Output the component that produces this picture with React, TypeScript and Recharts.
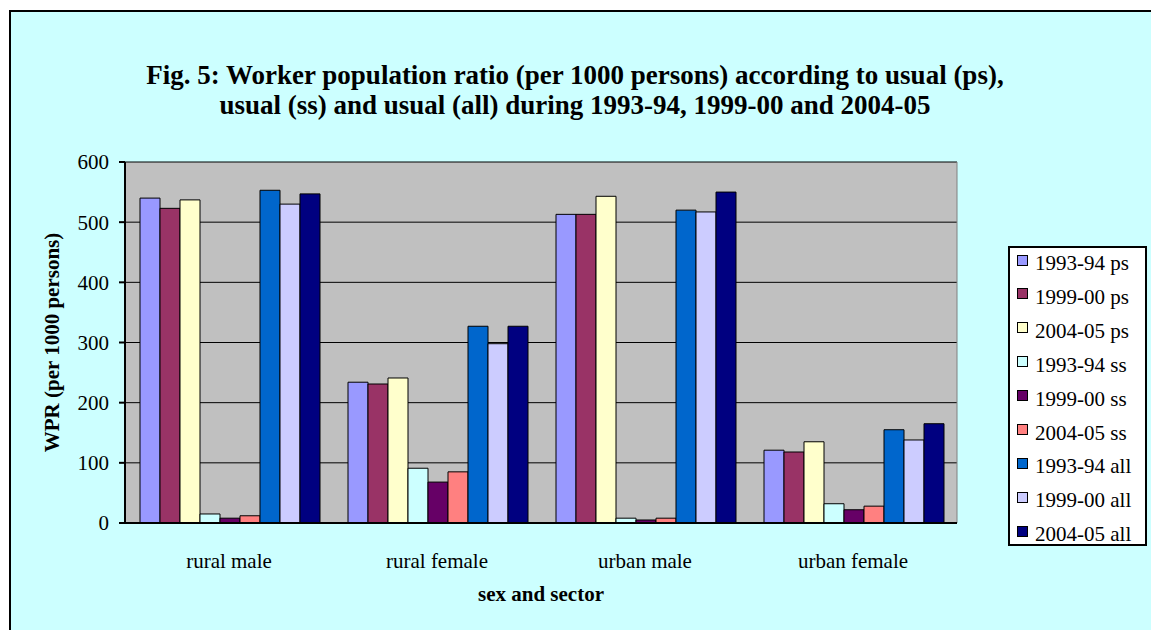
import React from 'react'
import { BarChart, Bar, XAxis, YAxis, CartesianGrid } from 'recharts'

const categories = ['rural male', 'rural female', 'urban male', 'urban female']

const ps1993 = [540, 234, 513, 121]
const ps1999 = [523, 231, 513, 118]
const ps2004 = [537, 241, 543, 135]
const ss1993 = [15, 91, 8, 32]
const ss1999 = [8, 68, 5, 22]
const ss2004 = [12, 85, 8, 28]
const all1993 = [553, 327, 520, 155]
const all1999 = [530, 298, 517, 138]
const all2004 = [547, 327, 550, 165]

const yTicks = [0, 100, 200, 300, 400, 500, 600]

const series = [
  { key: 'ps1993', name: '1993-94 ps', values: ps1993, color: '#9999FF' },
  { key: 'ps1999', name: '1999-00 ps', values: ps1999, color: '#993366' },
  { key: 'ps2004', name: '2004-05 ps', values: ps2004, color: '#FFFFCC' },
  { key: 'ss1993', name: '1993-94 ss', values: ss1993, color: '#CCFFFF' },
  { key: 'ss1999', name: '1999-00 ss', values: ss1999, color: '#660066' },
  { key: 'ss2004', name: '2004-05 ss', values: ss2004, color: '#FF8080' },
  { key: 'all1993', name: '1993-94 all', values: all1993, color: '#0066CC' },
  { key: 'all1999', name: '1999-00 all', values: all1999, color: '#CCCCFF' },
  { key: 'all2004', name: '2004-05 all', values: all2004, color: '#000080' },
]

const data = categories.map((cat, i) => {
  const row: Record<string, string | number> = { cat }
  series.forEach((s) => { row[s.key] = s.values[i] })
  return row
})

const font = '"Liberation Serif", "Times New Roman", serif'

function YLabel(props: any) {
  const { viewBox } = props
  const cx = viewBox.x + 52
  const cy = viewBox.y + viewBox.height / 2
  return (
    <text x={cx} y={cy} transform={`rotate(-90, ${cx}, ${cy})`} textAnchor="middle" dominantBaseline="central"
      fontFamily={font} fontSize={21} fontWeight="bold" fill="#000">
      WPR (per 1000 persons)
    </text>
  )
}

function ChartLegend() {
  return (
    <div style={{
      position: 'absolute', left: 1008, top: 246, width: 135, height: 296,
      border: '2px solid #000', background: '#fff', fontFamily: font, fontSize: 21,
    }}>
      {series.map((s, i) => (
        <div key={s.key} style={{ position: 'absolute', left: 0, top: -2 + i * 33.9, height: 34, display: 'flex', alignItems: 'center' }}>
          <span style={{
            display: 'inline-block', width: 9, height: 9, background: s.color,
            border: '1px solid #000', marginLeft: 7, marginRight: 7, marginTop: -6,
          }} />
          <span style={{ lineHeight: '34px', whiteSpace: 'nowrap' }}>{s.name}</span>
        </div>
      ))}
    </div>
  )
}

export default function App() {
  return (
    <div style={{ position: 'absolute', left: 0, top: 0, width: 1151, height: 630, overflow: 'hidden', background: '#fff' }}>
      <div style={{ position: 'absolute', left: 9, top: 10, width: 1160, height: 640, border: '2px solid #000', background: '#CCFFFF' }} />
      <div style={{
        position: 'absolute', left: 0, top: 60, width: 1150, textAlign: 'center',
        fontFamily: font, fontSize: 27, fontWeight: 'bold', lineHeight: '30px', color: '#000',
      }}>
        Fig. 5: Worker population ratio (per 1000 persons) according to usual (ps),<br />
        usual (ss) and usual (all) during 1993-94, 1999-00 and 2004-05
      </div>
      <div style={{ position: 'absolute', left: 0, top: 0 }}>
        <BarChart width={1151} height={630} data={data} barGap={0} barCategoryGap={15}
          margin={{ top: 162, right: 194, left: 0, bottom: 0 }}>
          <CartesianGrid vertical={false} fill="#C0C0C0" fillOpacity={1} stroke="#000" strokeWidth={1} />
          <CartesianGrid horizontal={false} stroke="#808080" strokeWidth={1}
            verticalCoordinatesGenerator={({ offset }: any) => [offset.left + offset.width]} />
          <XAxis xAxisId="edge" type="number" domain={[0, 4]} ticks={[0, 1, 2, 3, 4]} tick={false}
            tickSize={6} axisLine={false} tickLine={{ stroke: '#000', strokeWidth: 2 }} height={0} />
          <XAxis xAxisId="cat" dataKey="cat" tickLine={false} tickSize={6} tickMargin={24} height={107}
            axisLine={{ stroke: '#000', strokeWidth: 2 }} interval={0}
            tick={{ fill: '#000', fontFamily: font, fontSize: 21 }}
            label={{ value: 'sex and sector', position: 'insideBottom', offset: 29, fill: '#000', fontFamily: font, fontSize: 21, fontWeight: 'bold' }} />
          <YAxis domain={[0, 600]} ticks={yTicks} width={125} tickSize={6} tickMargin={10}
            axisLine={{ stroke: '#000', strokeWidth: 2 }} tickLine={{ stroke: '#000', strokeWidth: 2 }}
            tick={{ fill: '#000', fontFamily: font, fontSize: 21 }}
            label={<YLabel />} />
          {series.map((s) => (
            <Bar key={s.key} xAxisId="cat" dataKey={s.key} name={s.name} fill={s.color}
              stroke="#000" strokeWidth={1} isAnimationActive={false} />
          ))}
        </BarChart>
      </div>
      <ChartLegend />
    </div>
  )
}
